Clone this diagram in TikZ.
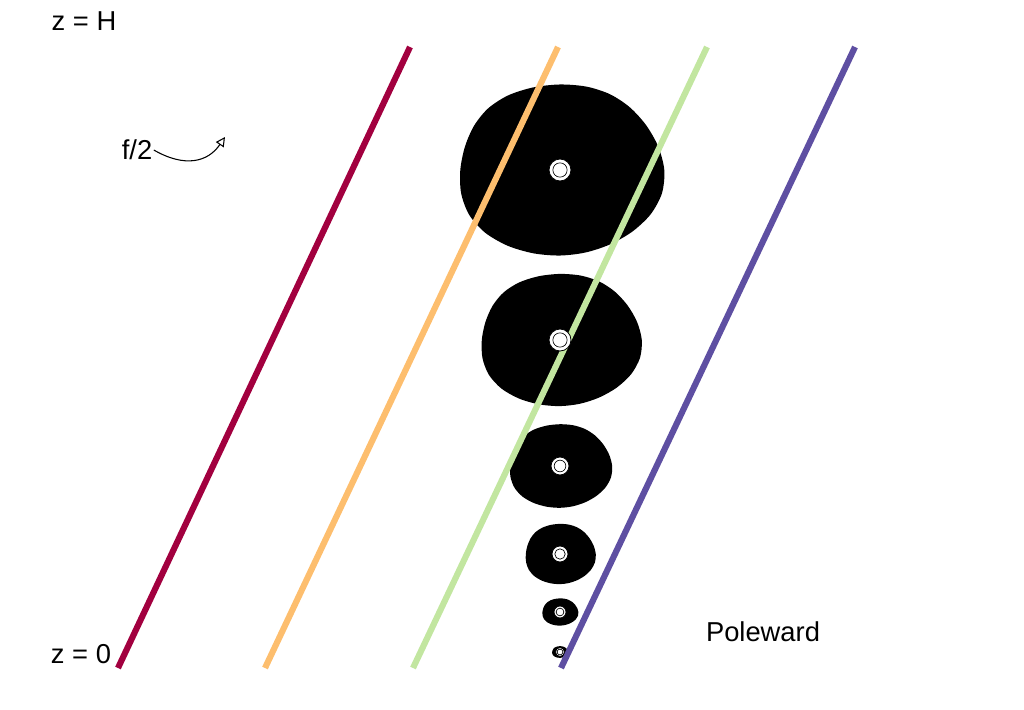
\documentclass[tikz,border=0pt]{standalone}
\usepackage{fontspec}
\setmainfont{Liberation Sans}
\usepackage{xcolor}
\usetikzlibrary{arrows.meta,positioning,calc}

\definecolor{sliceA}{HTML}{A2003F}
\definecolor{sliceB}{HTML}{FDBE6E}
\definecolor{sliceC}{HTML}{C2E6A0}
\definecolor{sliceD}{HTML}{5E4FA2}

% irregular black blob: center, rx, ry
\newcommand{\eddyblob}[3]{%
  \fill[shift={(#1)}] plot[smooth cycle, domain=0:345, samples=24, variable=\t]
    ({#2*(1+0.035*sin(3*\t+40))*cos(\t)}, {#3*(1+0.03*cos(2*\t+20))*sin(\t)});}

\begin{document}
\begin{tikzpicture}[x=0.75pt, y=-0.75pt,
    every node/.style={font=\fontsize{20.5}{24}\selectfont},
    slice/.style={line width=4.6pt},
    core/.style={draw=black, fill=white, line width=0.6pt}]
  \useasboundingbox (0,0) rectangle (1024,710);

  % blob centres
  \coordinate (e1) at (560,170);
  \coordinate (e2) at (560,340);
  \coordinate (e3) at (560,466);
  \coordinate (e4) at (560,554);
  \coordinate (e5) at (560,612);
  \coordinate (e6) at (560,652);

  \eddyblob{e1}{102}{88}
  \eddyblob{e2}{80}{68}
  \eddyblob{e3}{51}{43}
  \eddyblob{e4}{35}{31}
  \eddyblob{e5}{18}{14}
  \eddyblob{e6}{8}{6}

  % tilted slices
  \draw[slice, sliceA] (410,47) -- (118,668);
  \draw[slice, sliceB] (558,47) -- (265,668);
  \draw[slice, sliceC] (707,47) -- (413,668);
  \draw[slice, sliceD] (855,47) -- (561,668);

  % cores
  \foreach \c/\r in {e1/11, e2/11, e3/9, e4/8, e5/6, e6/4.5} {
    \filldraw[core] (\c) circle (\r);
    \draw[line width=0.5pt] (\c) circle ({\r*0.65});
  }

  \node (top) at (84,21) {z = H};
  \node (bot) at (81,654) {z = 0};
  \node (pole) at (763,632) {Poleward};
  \node[inner sep=1pt] (f2) at (137,150) {f/2};
  \coordinate (spin) at (225,137);
  \draw[line width=0.8pt, -{Triangle[open, length=7pt, width=7pt]}]
    (f2.east) .. controls (185,168) and (208,162) .. (spin);
\end{tikzpicture}
\end{document}
